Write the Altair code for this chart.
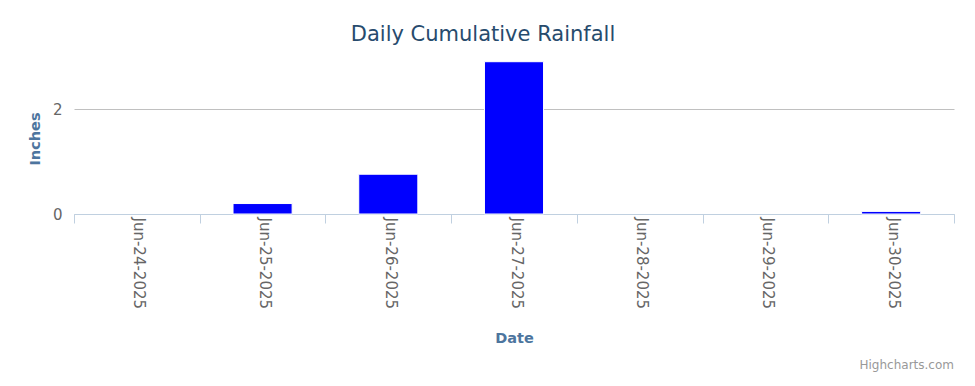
import altair as alt
import pandas as pd

dates = ["Jun-24-2025", "Jun-25-2025", "Jun-26-2025", "Jun-27-2025",
         "Jun-28-2025", "Jun-29-2025", "Jun-30-2025"]
rain = [0.0, 0.2, 0.76, 2.91, 0.0, 0.0, 0.05]
y_ticks = [0, 2]
credit = ["Highcharts.com"]

df = pd.DataFrame({"Date": dates, "Inches": rain})

FONT = "DejaVu Sans"
W, H = 880, 157

bars = alt.Chart(df).mark_bar(
    color="#0000ff", stroke="#ffffff", strokeWidth=1,
    width=alt.RelativeBandSize(0.47)
).encode(
    x=alt.X("Date:N", sort=dates,
            scale=alt.Scale(domain=dates, paddingInner=0, paddingOuter=0),
            axis=alt.Axis(
                title="Date", labelAngle=90, labelAlign="left", labelBaseline="middle",
                labelPadding=-6, labelOffset=2, labelFontSize=15, labelColor="#666666",
                labelFont=FONT, tickBand="extent", tickSize=9, tickColor="#c0d0e0",
                domainColor="#c0d0e0", domainWidth=1, grid=False,
                titleFont=FONT, titleFontSize=14.5, titleFontWeight="bold",
                titleColor="#4d759e", titleY=124, titleBaseline="middle",
                titleX=W / 2, titleAlign="center")),
    y=alt.Y("Inches:Q", scale=alt.Scale(domain=[0, 3], nice=False),
            axis=alt.Axis(
                title="Inches", values=y_ticks, domain=False, ticks=False,
                gridColor="#c0c0c0", gridWidth=1, labelFontSize=15,
                labelColor="#666666", labelFont=FONT, labelPadding=12,
                titleFont=FONT, titleFontSize=14.5, titleFontWeight="bold",
                titleColor="#4d759e", titleX=-39, titleY=H / 2 + 3,
                titleAngle=270, titleAlign="center", titleBaseline="middle")),
).transform_filter("datum.Inches > 0")

credit_df = pd.DataFrame({"t": credit})
credit_txt = alt.Chart(credit_df).mark_text(
    align="right", baseline="middle", fontSize=12, font=FONT, color="#999999"
).encode(
    text="t:N", x=alt.value(W), y=alt.value(308)
)

chart = alt.layer(bars, credit_txt).properties(
    width=W, height=H,
    title=alt.TitleParams("Daily Cumulative Rainfall", font=FONT, fontSize=21,
                          fontWeight="normal", color="#274b6d", anchor="middle",
                          dx=-31, offset=12),
    autosize=alt.AutoSizeParams(type="none"),
    padding={"left": 66, "top": 49, "right": 12, "bottom": 168},
).configure(background="#ffffff").configure_view(strokeWidth=0)

chart.save("out.html", embed_options={"renderer": "svg", "actions": False})
